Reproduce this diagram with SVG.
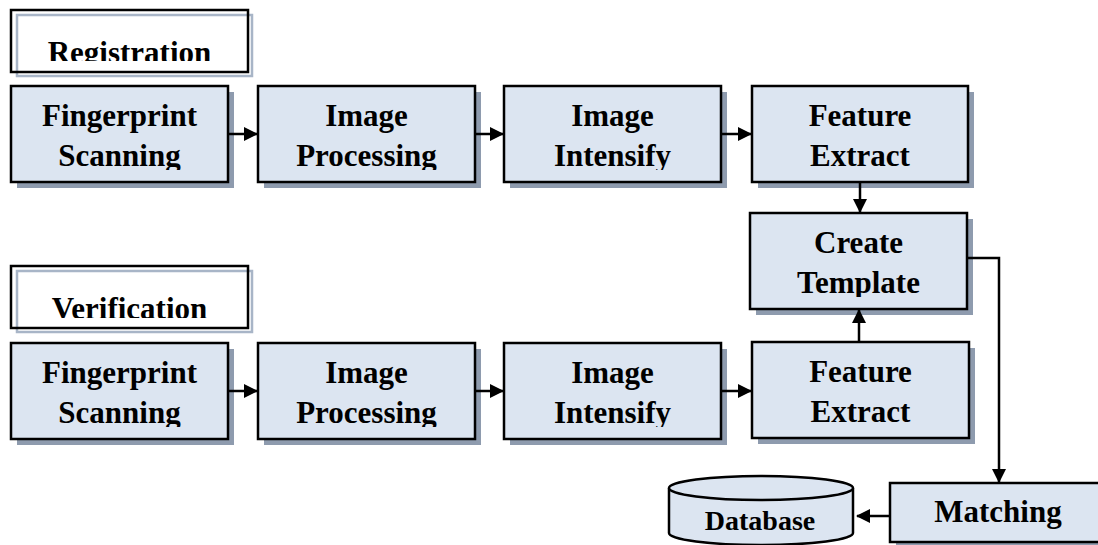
<svg xmlns="http://www.w3.org/2000/svg" width="1098" height="545" viewBox="0 0 1098 545">
<style>
.box{fill:#DCE5F1;stroke:#000;stroke-width:2.5}
.sh{fill:#8E9BAE}
.t{font-family:"Liberation Serif","Times New Roman",serif;font-weight:bold;font-size:31px;fill:#000;text-anchor:middle}
.ttl{fill:none;stroke:#000;stroke-width:2.5}
.ttl2{fill:none;stroke:#A8B5C7;stroke-width:2.5}
.c{fill:none;stroke:#000;stroke-width:2.5}
</style>
<defs>
<marker id="ah" markerWidth="14" markerHeight="14" refX="13" refY="7" orient="auto" markerUnits="userSpaceOnUse">
<path d="M0,0 L14,7 L0,14 Z" fill="#000"/>
</marker>
<clipPath id="cr1"><rect x="0" y="0" width="1098" height="170"/></clipPath>
<clipPath id="cr2"><rect x="0" y="0" width="1098" height="427"/></clipPath>
<clipPath id="cct"><rect x="0" y="0" width="1098" height="297"/></clipPath>
<clipPath id="ctr"><rect x="0" y="0" width="1098" height="61"/></clipPath>
<clipPath id="ctv"><rect x="0" y="0" width="1098" height="318"/></clipPath>
</defs>

<g id="title-registration">
<rect class="ttl2" x="17" y="15" width="235" height="61"/>
<rect class="ttl" x="11" y="10" width="237" height="62"/>
<text class="t" x="129.5" y="63" clip-path="url(#ctr)">Registration</text>
</g>
<g id="title-verification">
<rect class="ttl2" x="17" y="271" width="235" height="61"/>
<rect class="ttl" x="11" y="266" width="237" height="62"/>
<text class="t" x="129.5" y="319" clip-path="url(#ctv)">Verification</text>
</g>

<g id="reg-scan">
<rect class="sh" x="17" y="92" width="217" height="96"/>
<rect class="box" x="11" y="86" width="217" height="96"/>
<g clip-path="url(#cr1)"><text class="t" x="119.5" y="126">Fingerprint</text><text class="t" x="119.5" y="166">Scanning</text></g>
</g>
<g id="reg-proc">
<rect class="sh" x="264" y="92" width="217" height="96"/>
<rect class="box" x="258" y="86" width="217" height="96"/>
<g clip-path="url(#cr1)"><text class="t" x="366.5" y="126">Image</text><text class="t" x="366.5" y="166">Processing</text></g>
</g>
<g id="reg-int">
<rect class="sh" x="510" y="92" width="217" height="96"/>
<rect class="box" x="504" y="86" width="217" height="96"/>
<g clip-path="url(#cr1)"><text class="t" x="612.5" y="126">Image</text><text class="t" x="612.5" y="166">Intensify</text></g>
</g>
<g id="reg-feat">
<rect class="sh" x="758" y="92" width="216" height="96"/>
<rect class="box" x="752" y="86" width="216" height="96"/>
<g clip-path="url(#cr1)"><text class="t" x="860" y="126">Feature</text><text class="t" x="860" y="166">Extract</text></g>
</g>

<g id="create-template">
<rect class="sh" x="756" y="219" width="217" height="96"/>
<rect class="box" x="750" y="213" width="217" height="96"/>
<g clip-path="url(#cct)"><text class="t" x="858.5" y="253">Create</text><text class="t" x="858.5" y="293">Template</text></g>
</g>

<g id="ver-scan">
<rect class="sh" x="17" y="349" width="217" height="96"/>
<rect class="box" x="11" y="343" width="217" height="96"/>
<g clip-path="url(#cr2)"><text class="t" x="119.5" y="383">Fingerprint</text><text class="t" x="119.5" y="423">Scanning</text></g>
</g>
<g id="ver-proc">
<rect class="sh" x="264" y="349" width="217" height="96"/>
<rect class="box" x="258" y="343" width="217" height="96"/>
<g clip-path="url(#cr2)"><text class="t" x="366.5" y="383">Image</text><text class="t" x="366.5" y="423">Processing</text></g>
</g>
<g id="ver-int">
<rect class="sh" x="510" y="349" width="217" height="96"/>
<rect class="box" x="504" y="343" width="217" height="96"/>
<g clip-path="url(#cr2)"><text class="t" x="612.5" y="383">Image</text><text class="t" x="612.5" y="423">Intensify</text></g>
</g>
<g id="ver-feat">
<rect class="sh" x="758" y="348" width="217" height="96"/>
<rect class="box" x="752" y="342" width="217" height="96"/>
<g clip-path="url(#cr2)"><text class="t" x="860.5" y="382">Feature</text><text class="t" x="860.5" y="422">Extract</text></g>
</g>

<g id="matching">
<rect class="sh" x="896" y="489" width="216" height="59"/>
<rect class="box" x="890" y="483" width="216" height="59"/>
<text class="t" x="998" y="522">Matching</text>
</g>

<g id="database">
<path class="box" d="M669,488 L669,533 A92,12 0 0 0 853,533 L853,488"/>
<ellipse class="box" cx="761" cy="488" rx="92" ry="12"/>
<text class="t" x="760" y="530" style="font-size:28px">Database</text>
</g>

<g id="connectors">
<line class="c" x1="228" y1="134" x2="257" y2="134" marker-end="url(#ah)"/>
<line class="c" x1="475" y1="134" x2="503" y2="134" marker-end="url(#ah)"/>
<line class="c" x1="721" y1="134" x2="751" y2="134" marker-end="url(#ah)"/>
<line class="c" x1="228" y1="391" x2="257" y2="391" marker-end="url(#ah)"/>
<line class="c" x1="475" y1="391" x2="503" y2="391" marker-end="url(#ah)"/>
<line class="c" x1="721" y1="391" x2="751" y2="391" marker-end="url(#ah)"/>
<line class="c" x1="860" y1="182" x2="860" y2="212" marker-end="url(#ah)"/>
<line class="c" x1="859" y1="342" x2="859" y2="310" marker-end="url(#ah)"/>
<polyline class="c" points="967,258 999,258 999,482" marker-end="url(#ah)"/>
<line class="c" x1="890" y1="516" x2="857" y2="516" marker-end="url(#ah)"/>
</g>
</svg>
